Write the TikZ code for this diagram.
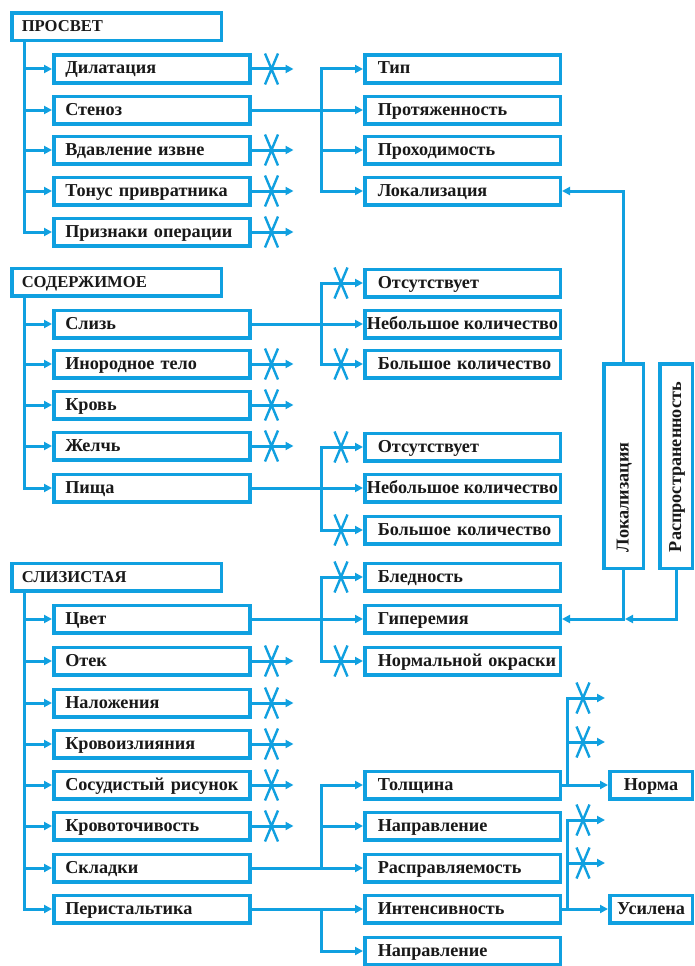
\documentclass[tikz,border=0pt]{standalone}
\usepackage{fontspec}
\setmainfont{Liberation Serif}
\usetikzlibrary{arrows.meta}
\definecolor{blu}{RGB}{16,160,224}
\newcommand\itemfont{\bfseries\fontsize{18.2}{21}\selectfont}
\newcommand\headfont{\bfseries\fontsize{16.6}{19}\selectfont}
\begin{document}
\hyphenpenalty=10000
\exhyphenpenalty=10000
\begin{tikzpicture}[x=1pt,y=-1pt,
  every node/.style={text=black!90},
  frame/.style={draw=blu, line width=3.5pt, outer sep=1.75pt, inner ysep=0pt,
    minimum height=27.5pt, text height=13pt, text depth=3pt},
  head/.style={frame, anchor=west, inner xsep=4pt, text width=201.5pt, align=left,
    font=\headfont, execute at begin node=\hspace*{6pt}},
  item/.style={frame, anchor=west, inner xsep=4pt, text width=188pt, align=left,
    font=\itemfont, execute at begin node=\hspace*{7.5pt}},
  opt/.style={frame, anchor=west, inner xsep=4pt, text width=187.5pt, align=left,
    font=\itemfont, execute at begin node=\hspace*{9pt}},
  optc/.style={frame, anchor=west, inner xsep=0pt, minimum width=195.5pt, font=\itemfont},
  tag/.style={frame, anchor=west, inner xsep=0pt, minimum width=82.5pt, font=\itemfont},
  vbox/.style={frame, rotate=90, anchor=center, inner xsep=4pt, text width=196.5pt, align=left,
    font=\itemfont, execute at begin node=\hspace*{12.25pt}},
  ln/.style={draw=blu, line width=3pt},
  arr/.style={ln, -{Triangle[length=8pt,width=8pt]}},
  xcut/.pic={\draw[blu, line width=2.4pt] (-6.5,-15.5) -- (6.5,15.5) (-6.5,15.5) -- (6.5,-15.5);}
]
\fill[white] (0,0) rectangle (695,966);
\useasboundingbox (0,0) rectangle (695,966);

% ---------- Просвет ----------
\node[head] (prosvet) at (10,27) {ПРОСВЕТ};
\node[item] (dil)   at (52,69)  {Дилатация};
\node[item] (sten)  at (52,110) {Стеноз};
\node[item] (vdav)  at (52,150) {Вдавление извне};
\node[item] (tonus) at (52,191) {Тонус привратника};
\node[item] (prizn) at (52,232) {Признаки операции};
\node[opt] (tip)   at (363,69)  {Тип};
\node[opt] (prot)  at (363,110) {Протяженность};
\node[opt] (prokh) at (363,150) {Проходимость};
\node[opt] (lok)   at (363,191) {Локализация};

% ---------- Содержимое ----------
\node[head] (soder) at (10,282) {СОДЕРЖИМОЕ};
\node[item] (sliz) at (52,324) {Слизь};
\node[item] (inor) at (52,364) {Инородное тело};
\node[item] (krov) at (52,405) {Кровь};
\node[item] (zhel) at (52,446) {Желчь};
\node[item] (pish) at (52,488) {Пища};
\node[opt]  (sA) at (363,283) {Отсутствует};
\node[optc] (sB) at (363,324) {Небольшое количество};
\node[opt]  (sC) at (363,364) {Большое количество};
\node[opt]  (pA) at (363,447) {Отсутствует};
\node[optc] (pB) at (363,488) {Небольшое количество};
\node[opt]  (pC) at (363,530) {Большое количество};

% ---------- Слизистая ----------
\node[head] (slizist) at (10,577) {СЛИЗИСТАЯ};
\node[item] (cvet)      at (52,619) {Цвет};
\node[item] (otek)      at (52,661) {Отек};
\node[item] (nalozh)    at (52,703) {Наложения};
\node[item] (krovoizl)  at (52,744) {Кровоизлияния};
\node[item] (sosud)     at (52,785) {Сосудистый рисунок};
\node[item] (krovotoch) at (52,826) {Кровоточивость};
\node[item] (sklad)     at (52,868) {Складки};
\node[item] (perist)    at (52,909) {Перистальтика};
\node[opt] (bled)    at (363,577) {Бледность};
\node[opt] (giper)   at (363,619) {Гиперемия};
\node[opt] (normokr) at (363,661) {Нормальной окраски};
\node[opt] (tol)     at (363,785) {Толщина};
\node[opt] (naprA)   at (363,826) {Направление};
\node[opt] (raspr)   at (363,868) {Расправляемость};
\node[opt] (intens)  at (363,909) {Интенсивность};
\node[opt] (naprB)   at (363,951) {Направление};
\node[tag] (norma) at (608,785) {Норма};
\node[tag] (usil)  at (608,909) {Усилена};

% ---------- vertical boxes ----------
\node[vbox, minimum height=39.5pt] (vloc) at (623.5,466) {Локализация};
\node[vbox, minimum height=32.5pt] (vras) at (676,466) {Распространенность};

% ---------- trunks of the three groups ----------
\coordinate (t1) at ([xshift=14pt]prosvet.south west);
\coordinate (t2) at ([xshift=14pt]soder.south west);
\coordinate (t3) at ([xshift=14pt]slizist.south west);
\foreach \n in {dil,sten,vdav,tonus,prizn} \draw[arr] (t1) |- (\n.west);
\foreach \n in {sliz,inor,krov,zhel,pish} \draw[arr] (t2) |- (\n.west);
\foreach \n in {cvet,otek,nalozh,krovoizl,sosud,krovotoch,sklad,perist} \draw[arr] (t3) |- (\n.west);

% ---------- crossed-out outputs ----------
\foreach \n in {dil,vdav,tonus,prizn,inor,krov,zhel,otek,nalozh,krovoizl,sosud,krovotoch}{
  \coordinate (\n-o) at ([xshift=42pt]\n.east);
  \draw[arr] (\n.east) -- (\n-o);
  \pic at ([xshift=20pt]\n.east) {xcut};
}

% ---------- branches to the second column ----------
\coordinate (j1) at ([xshift=70pt]sten.east);
\draw[ln] (sten.east) -- (j1);
\foreach \n in {tip,prot,prokh,lok} \draw[arr] (j1) |- (\n.west);

\coordinate (j2) at ([xshift=70pt]sliz.east);
\draw[ln] (sliz.east) -- (j2);
\foreach \n in {sA,sB,sC} \draw[arr] (j2) |- (\n.west);
\pic at ([xshift=-22pt]sA.west) {xcut};
\pic at ([xshift=-22pt]sC.west) {xcut};

\coordinate (j3) at ([xshift=70pt]pish.east);
\draw[ln] (pish.east) -- (j3);
\foreach \n in {pA,pB,pC} \draw[arr] (j3) |- (\n.west);
\pic at ([xshift=-22pt]pA.west) {xcut};
\pic at ([xshift=-22pt]pC.west) {xcut};

\coordinate (j4) at ([xshift=70pt]cvet.east);
\draw[ln] (cvet.east) -- (j4);
\foreach \n in {bled,giper,normokr} \draw[arr] (j4) |- (\n.west);
\pic at ([xshift=-22pt]bled.west) {xcut};
\pic at ([xshift=-22pt]normokr.west) {xcut};

\coordinate (j5) at ([xshift=70pt]sklad.east);
\draw[ln] (sklad.east) -- (j5);
\foreach \n in {tol,naprA,raspr} \draw[arr] (j5) |- (\n.west);

\coordinate (j6) at ([xshift=70pt]perist.east);
\draw[arr] (perist.east) -- (intens.west);
\draw[arr] (j6) |- (naprB.west);

% ---------- third column ----------
\coordinate (j7) at ([xshift=5pt]tol.east);
\coordinate (tolA) at ([xshift=43pt,yshift=87pt]tol.east);
\coordinate (tolB) at ([xshift=43pt,yshift=43pt]tol.east);
\draw[ln] (tol.east) -- (j7);
\draw[arr] (j7) |- (tolA);
\draw[arr] (j7) |- (tolB);
\draw[arr] (j7) -- (norma.west);
\pic at ([xshift=-22pt]tolA) {xcut};
\pic at ([xshift=-22pt]tolB) {xcut};

\coordinate (j8) at ([xshift=5pt]intens.east);
\coordinate (intA) at ([xshift=43pt,yshift=89pt]intens.east);
\coordinate (intB) at ([xshift=43pt,yshift=46pt]intens.east);
\draw[ln] (intens.east) -- (j8);
\draw[arr] (j8) |- (intA);
\draw[arr] (j8) |- (intB);
\draw[arr] (j8) -- (usil.west);
\pic at ([xshift=-22pt]intA) {xcut};
\pic at ([xshift=-22pt]intB) {xcut};

% ---------- links from the vertical boxes ----------
\draw[arr] (vloc.east) |- (lok.east);
\draw[arr] (vloc.west) |- (giper.east);
\draw[arr, shorten >=1.5pt] (vras.west) |- (vloc.west |- giper.east);
\end{tikzpicture}
\end{document}
